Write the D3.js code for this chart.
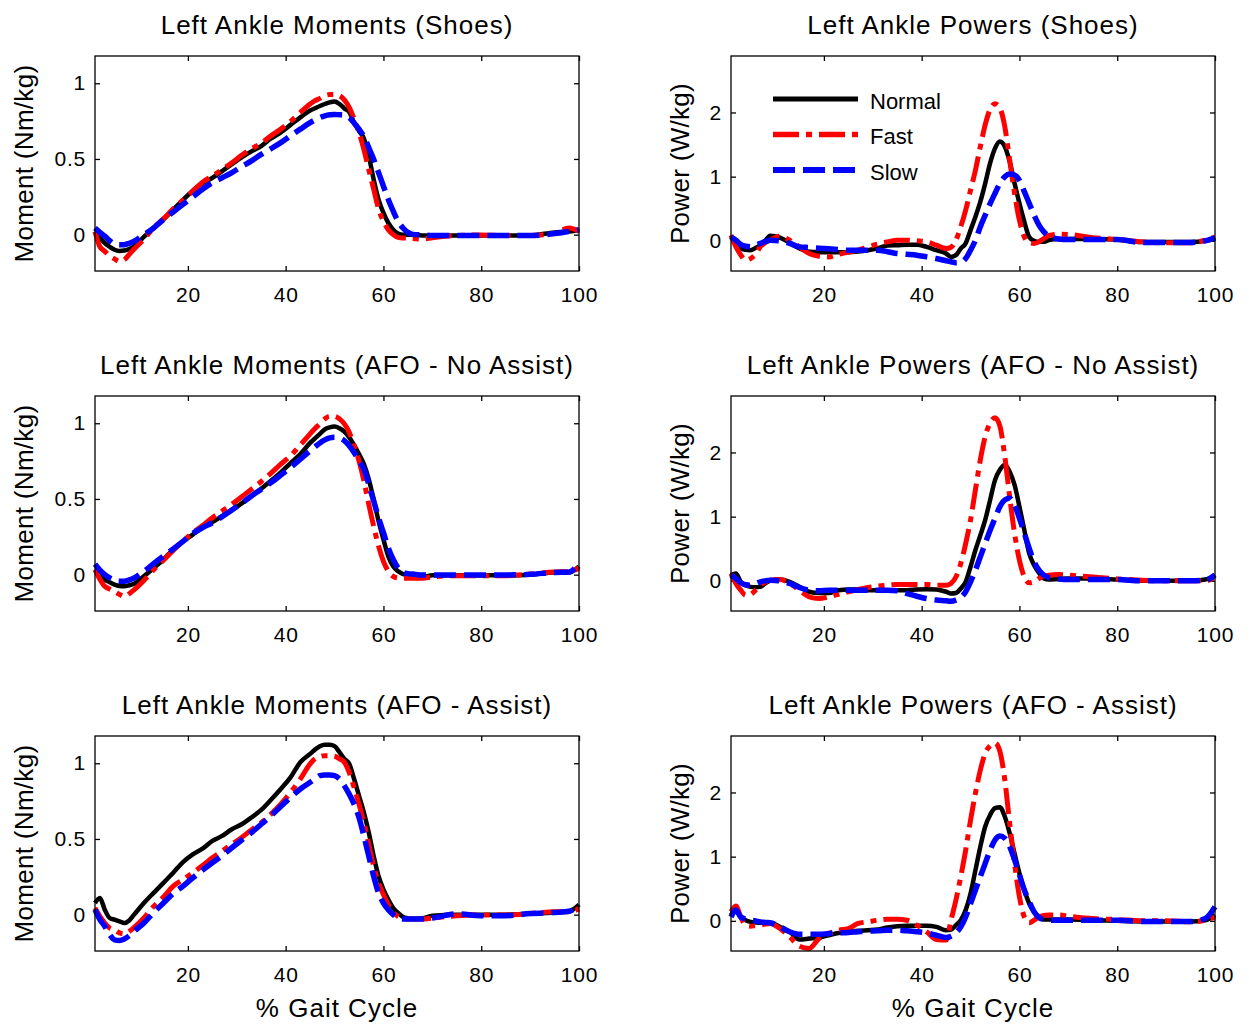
<!DOCTYPE html>
<html>
<head>
<meta charset="utf-8">
<script src="https://cdn.jsdelivr.net/npm/d3@7"></script>
<style>
  body { margin: 0; background: #fff; }
  text { font-family: "Liberation Sans", Arial, sans-serif; fill: #000; }
</style>
</head>
<body>
<div id="chart"></div>
<script>
// % gait cycle sample points (denser around push-off)
var gaitPct = [1,2,3,4,5,6,7,8,9,11,13,15,17,19,21,23,25,27,29,31,33,35,37,39,41,43,45,
  46,47,48,49,50,51,52,53,54,55,56,57,58,59,60,61,62,63,64,65,66,68,70,75,80,85,90,95,98,100];

var seriesNames = ["Normal", "Fast", "Slow"];
var titles = [
  "Left Ankle Moments (Shoes)", "Left Ankle Powers (Shoes)",
  "Left Ankle Moments (AFO - No Assist)", "Left Ankle Powers (AFO - No Assist)",
  "Left Ankle Moments (AFO - Assist)", "Left Ankle Powers (AFO - Assist)"
];
var momentTicks = [0, 0.5, 1];
var powerTicks = [0, 1, 2];
var pctTicks = [20, 40, 60, 80, 100];

// moments (Nm/kg)
var momShoesNormal = [0.02,-0.02,-0.055,-0.08,-0.10,-0.108,-0.105,-0.095,-0.077,
  -0.015,0.045,0.10,0.165,0.23,0.29,0.34,0.375,0.42,0.465,0.51,0.55,0.585,0.635,0.675,0.725,0.775,0.82,
  0.835,0.85,0.863,0.874,0.88,0.863,0.834,0.81,0.74,0.685,0.635,0.52,0.365,0.232,0.144,0.077,0.033,0.007,0,0,-0.002,
  -0.005,-0.005,-0.005,-0.005,-0.005,-0.005,0.015,0.02,0.03];
var momShoesFast = [0.02,-0.08,-0.11,-0.14,-0.16,-0.177,-0.166,-0.13,-0.095,
  -0.03,0.045,0.104,0.17,0.228,0.288,0.347,0.387,0.43,0.475,0.524,0.568,0.604,0.653,0.697,0.748,0.807,0.863,
  0.885,0.90,0.918,0.925,0.925,0.918,0.89,0.84,0.763,0.675,0.564,0.43,0.30,0.17,0.088,0.033,0,-0.018,-0.022,-0.022,-0.026,
  -0.029,-0.02,-0.006,-0.002,-0.006,-0.006,0.01,0.044,0.022];
var momShoesSlow = [0.044,0.015,-0.01,-0.04,-0.062,-0.067,-0.066,-0.057,-0.044,
  0,0.044,0.10,0.15,0.20,0.25,0.30,0.343,0.376,0.41,0.45,0.487,0.53,0.568,0.608,0.653,0.697,0.74,
  0.758,0.774,0.785,0.792,0.794,0.792,0.79,0.774,0.737,0.697,0.648,0.575,0.498,0.41,0.32,0.232,0.155,0.088,0.044,0.015,0.002,
  -0.002,-0.006,-0.006,-0.006,-0.006,-0.006,0.007,0.022,0.033];

var momNoAsstNormal = [0.033,0.0,-0.033,-0.05,-0.066,-0.075,-0.077,-0.07,-0.06,
  -0.011,0.044,0.10,0.166,0.22,0.265,0.31,0.347,0.387,0.427,0.471,0.52,0.568,0.62,0.675,0.737,0.796,0.87,
  0.90,0.93,0.96,0.973,0.978,0.967,0.945,0.907,0.856,0.796,0.73,0.63,0.498,0.354,0.232,0.12,0.055,0.022,0.004,-0.007,-0.011,
  -0.015,-0.004,-0.004,-0.004,-0.004,0,0.015,0.015,0.055];
var momNoAsstFast = [0.033,-0.03,-0.077,-0.095,-0.11,-0.13,-0.144,-0.126,-0.10,
  -0.038,0.033,0.095,0.16,0.22,0.277,0.325,0.376,0.42,0.465,0.515,0.564,0.615,0.67,0.73,0.785,0.856,0.93,
  0.965,0.996,1.029,1.046,1.046,1.029,0.996,0.94,0.852,0.752,0.62,0.465,0.32,0.188,0.088,0.022,-0.011,-0.022,-0.024,-0.024,-0.024,
  -0.024,-0.015,-0.007,-0.007,-0.007,0.004,0.018,0.02,0.044];
var momNoAsstSlow = [0.07,0.03,0,-0.022,-0.038,-0.044,-0.044,-0.035,-0.022,
  0.022,0.073,0.122,0.17,0.22,0.272,0.31,0.343,0.383,0.427,0.471,0.52,0.564,0.608,0.657,0.708,0.763,0.818,
  0.845,0.87,0.89,0.903,0.907,0.903,0.885,0.852,0.807,0.752,0.697,0.597,0.487,0.376,0.277,0.177,0.10,0.044,0.015,0.007,0.004,
  -0.002,-0.002,-0.002,-0.002,-0.002,0.002,0.015,0.018,0.077];

var momAsstNormal = [0.077,0.11,0.033,-0.022,-0.033,-0.044,-0.055,-0.038,0,
  0.077,0.144,0.21,0.277,0.347,0.398,0.436,0.487,0.52,0.564,0.597,0.642,0.692,0.759,0.83,0.907,1.007,1.062,
  1.09,1.113,1.122,1.122,1.113,1.073,1.029,0.996,0.896,0.785,0.675,0.542,0.387,0.254,0.166,0.10,0.044,0.011,-0.015,-0.024,-0.029,
  -0.024,-0.007,0,0,0,0.007,0.015,0.022,0.066];
var momAsstFast = [0.044,-0.011,-0.055,-0.088,-0.10,-0.12,-0.126,-0.11,-0.084,
  -0.022,0.055,0.117,0.188,0.232,0.277,0.325,0.376,0.42,0.465,0.51,0.56,0.608,0.664,0.73,0.807,0.896,0.996,
  1.029,1.044,1.05,1.05,1.046,1.029,1.007,0.94,0.84,0.73,0.608,0.465,0.32,0.21,0.133,0.066,0.015,-0.011,-0.024,-0.029,-0.029,
  -0.029,-0.022,-0.007,-0.002,-0.002,0.007,0.02,0.02,0.038];
var momAsstSlow = [0.033,-0.033,-0.077,-0.133,-0.166,-0.17,-0.16,-0.14,-0.11,
  -0.055,0.015,0.077,0.14,0.188,0.243,0.294,0.343,0.39,0.442,0.493,0.542,0.597,0.653,0.715,0.774,0.83,0.874,
  0.896,0.918,0.922,0.922,0.918,0.896,0.852,0.796,0.73,0.642,0.52,0.387,0.254,0.144,0.077,0.033,0,-0.022,-0.029,-0.029,-0.029,
  -0.029,-0.022,0.005,-0.007,-0.007,0.007,0.015,0.022,0.066];

// powers (W/kg)
var powShoesNormal = [0.06,-0.04,-0.12,-0.14,-0.146,-0.11,-0.07,0.0,0.08,
  0.05,-0.03,-0.12,-0.17,-0.177,-0.177,-0.177,-0.177,-0.167,-0.146,-0.115,-0.073,-0.068,-0.06,-0.06,-0.094,-0.146,-0.198,
  -0.25,-0.224,-0.12,-0.04,0.167,0.375,0.61,0.896,1.21,1.44,1.547,1.47,1.234,0.896,0.583,0.297,0.06,0,-0.016,-0.016,0.01,
  0.03,0.03,0.03,0.02,-0.02,-0.02,-0.02,0,0.036];
var powShoesFast = [0.09,-0.09,-0.22,-0.30,-0.276,-0.21,-0.09,-0.03,0.01,
  0.07,0.01,-0.094,-0.198,-0.24,-0.25,-0.208,-0.177,-0.146,-0.094,-0.052,-0.016,0.01,0.01,0,-0.016,-0.068,-0.12,
  -0.1,0.01,0.22,0.48,0.79,1.10,1.47,1.81,2.05,2.135,2.07,1.78,1.26,0.74,0.32,0.06,-0.03,-0.04,-0.016,0.036,0.083,
  0.104,0.10,0.05,0.02,-0.016,-0.03,-0.03,0.01,0.06];
var powShoesSlow = [0.06,0.01,-0.057,-0.085,-0.094,-0.07,-0.04,-0.01,0.01,
  0,-0.04,-0.094,-0.104,-0.115,-0.125,-0.135,-0.146,-0.146,-0.146,-0.146,-0.17,-0.198,-0.21,-0.224,-0.25,-0.276,-0.31,
  -0.325,-0.34,-0.333,-0.276,-0.146,0.01,0.22,0.40,0.58,0.74,0.896,1.0,1.04,1.026,0.94,0.766,0.583,0.40,0.245,0.14,0.073,
  0.03,0.02,0.02,0.02,-0.026,-0.026,-0.026,0,0.047];

var powNoAsstNormal = [0.09,0.115,-0.016,-0.07,-0.094,-0.1,-0.094,-0.04,0,
  0.02,-0.016,-0.094,-0.17,-0.19,-0.19,-0.146,-0.135,-0.135,-0.146,-0.146,-0.146,-0.146,-0.146,-0.135,-0.13,-0.135,-0.17,
  -0.198,-0.19,-0.12,-0.016,0.22,0.48,0.71,0.95,1.26,1.57,1.73,1.81,1.70,1.495,1.156,0.79,0.427,0.245,0.125,0.036,0.02,
  0.03,0.036,0.036,0.02,0,0,0,0.02,0.09];
var powNoAsstFast = [0.115,-0.04,-0.146,-0.224,-0.21,-0.146,-0.068,-0.02,0.01,
  0.02,-0.04,-0.146,-0.25,-0.276,-0.25,-0.21,-0.17,-0.135,-0.104,-0.083,-0.068,-0.057,-0.057,-0.057,-0.057,-0.068,-0.068,
  -0.04,0.06,0.27,0.58,0.95,1.42,1.885,2.25,2.46,2.54,2.41,1.94,1.31,0.74,0.32,0.06,-0.03,-0.016,0.036,0.073,0.089,
  0.10,0.089,0.06,0.03,0.01,0,0,0,0.06];
var powNoAsstSlow = [0.09,0.036,-0.03,-0.06,-0.068,-0.045,-0.016,0.0,0.01,
  0,-0.04,-0.104,-0.146,-0.156,-0.146,-0.146,-0.146,-0.146,-0.146,-0.146,-0.146,-0.156,-0.198,-0.24,-0.276,-0.30,-0.31,
  -0.318,-0.30,-0.26,-0.17,-0.016,0.167,0.375,0.583,0.79,0.974,1.156,1.26,1.286,1.18,0.974,0.74,0.505,0.297,0.167,0.089,0.05,
  0.03,0.02,0.02,0.02,0,0,0,0.01,0.09];

var powAsstNormal = [0.09,0.167,0.06,0.01,-0.016,-0.025,-0.03,-0.03,-0.03,
  -0.094,-0.17,-0.29,-0.276,-0.26,-0.224,-0.19,-0.17,-0.156,-0.146,-0.135,-0.104,-0.083,-0.078,-0.078,-0.078,-0.094,-0.146,
  -0.135,-0.068,0.01,0.167,0.427,0.79,1.156,1.47,1.65,1.755,1.77,1.625,1.365,1.05,0.74,0.48,0.27,0.14,0.06,0.02,0.02,
  0.02,0.02,0.01,0,-0.01,-0.01,-0.01,0.01,0.09];
var powAsstFast = [0.14,0.23,0.06,-0.068,-0.083,-0.075,-0.068,-0.05,-0.04,
  -0.12,-0.25,-0.396,-0.43,-0.276,-0.198,-0.146,-0.12,-0.04,-0.016,0.01,0.026,0.026,0.01,-0.068,-0.17,-0.29,-0.30,
  0.01,0.32,0.69,1.10,1.57,1.99,2.35,2.61,2.73,2.77,2.64,2.20,1.52,0.896,0.375,0.06,-0.03,0.01,0.06,0.083,0.09,
  0.09,0.073,0.036,0.02,0,0,-0.016,0.01,0.06];
var powAsstSlow = [0.06,0.167,0.06,0.03,0.01,0,-0.016,-0.025,-0.03,
  -0.094,-0.17,-0.21,-0.21,-0.21,-0.198,-0.19,-0.182,-0.17,-0.16,-0.156,-0.146,-0.146,-0.156,-0.17,-0.19,-0.224,-0.26,
  -0.24,-0.19,-0.094,0.06,0.27,0.48,0.69,0.896,1.10,1.26,1.32,1.286,1.156,0.95,0.714,0.48,0.297,0.14,0.052,0.02,0.01,
  0.01,0.01,0.01,0.01,-0.01,-0.01,-0.01,0.036,0.22];

var W = 1249, H = 1024;
var colX = [95, 731], rowY = [56, 396, 736];
var axW = 484, axH = 215;

var styles = [
  { color: "#000000", width: 4.5, dash: null },
  { color: "#ff0000", width: 5,   dash: "26,7,6,7" },
  { color: "#0000ff", width: 5.5, dash: "22,8" }
];

var panels = [
  { kind: "moment", series: [momShoesNormal, momShoesFast, momShoesSlow] },
  { kind: "power",  series: [powShoesNormal, powShoesFast, powShoesSlow], legend: true },
  { kind: "moment", series: [momNoAsstNormal, momNoAsstFast, momNoAsstSlow] },
  { kind: "power",  series: [powNoAsstNormal, powNoAsstFast, powNoAsstSlow] },
  { kind: "moment", series: [momAsstNormal, momAsstFast, momAsstSlow] },
  { kind: "power",  series: [powAsstNormal, powAsstFast, powAsstSlow] }
];

var svg = d3.select("#chart").append("svg")
  .attr("width", W)
  .attr("height", H);

panels.forEach(function(p, i) {
  var row = Math.floor(i / 2), col = i % 2;
  var g = svg.append("g")
    .attr("transform", "translate(" + colX[col] + "," + rowY[row] + ")");

  var x = d3.scaleLinear().domain([1, 100]).range([0, axW]);
  var y = p.kind === "moment"
    ? d3.scaleLinear().domain([-0.24, 1.18]).range([axH, 0])
    : d3.scaleLinear().domain([-0.47, 2.88]).range([axH, 0]);
  var yTicks = p.kind === "moment" ? momentTicks : powerTicks;

  // axes (ticks point inward, like matlab)
  g.append("g")
    .attr("transform", "translate(0," + axH + ")")
    .call(d3.axisBottom(x).tickValues(pctTicks).tickSizeInner(-5).tickSizeOuter(0).tickPadding(16))
    .call(styleAxis);
  g.append("g")
    .call(d3.axisTop(x).tickValues(pctTicks).tickSizeInner(-5).tickSizeOuter(0).tickFormat(""))
    .call(styleAxis);
  g.append("g")
    .call(d3.axisLeft(y).tickValues(yTicks).tickSizeInner(-5).tickSizeOuter(0).tickPadding(9).tickFormat(d3.format("")))
    .call(styleAxis);
  g.append("g")
    .attr("transform", "translate(" + axW + ",0)")
    .call(d3.axisRight(y).tickValues(yTicks).tickSizeInner(-5).tickSizeOuter(0).tickFormat(""))
    .call(styleAxis);

  var line = d3.line()
    .x(function(d) { return x(d[0]); })
    .y(function(d) { return y(d[1]); })
    .curve(d3.curveMonotoneX);

  p.series.forEach(function(vals, k) {
    var pts = gaitPct.map(function(t, j) { return [t, vals[j]]; });
    g.append("path")
      .datum(pts)
      .attr("d", line)
      .attr("fill", "none")
      .attr("stroke", styles[k].color)
      .attr("stroke-width", styles[k].width)
      .attr("stroke-dasharray", styles[k].dash)
      .attr("stroke-linejoin", "round");
  });

  g.append("rect")
    .attr("width", axW)
    .attr("height", axH)
    .attr("fill", "none")
    .attr("stroke", "#000")
    .attr("stroke-width", 1.3);

  g.append("text")
    .attr("x", axW / 2)
    .attr("y", -22)
    .attr("text-anchor", "middle")
    .style("font-size", "26px")
    .style("letter-spacing", "1px")
    .text(titles[i]);

  g.append("text")
    .attr("transform", "translate(" + (col === 0 ? -71 : -51) + "," + (axH / 2) + ") rotate(-90)")
    .attr("dy", "0.36em")
    .attr("text-anchor", "middle")
    .style("font-size", "26px")
    .style("letter-spacing", "0.3px")
    .text(p.kind === "moment" ? "Moment (Nm/kg)" : "Power (W/kg)");

  if (row === 2) {
    g.append("text")
      .attr("x", axW / 2)
      .attr("y", axH + 66)
      .attr("text-anchor", "middle")
      .style("font-size", "26px")
      .style("letter-spacing", "1px")
      .text("% Gait Cycle");
  }

  if (p.legend) {
    var lg = g.append("g").attr("transform", "translate(42,43)");
    seriesNames.forEach(function(name, k) {
      var ly = k * 35.5;
      lg.append("line")
        .attr("x1", 0).attr("x2", 85)
        .attr("y1", ly).attr("y2", ly)
        .attr("stroke", styles[k].color)
        .attr("stroke-width", styles[k].width + 0.5)
        .attr("stroke-dasharray", styles[k].dash);
      lg.append("text")
        .attr("x", 97)
        .attr("y", ly + 2)
        .attr("dy", "0.36em")
        .style("font-size", "22px")
        .text(name);
    });
  }
});

function styleAxis(sel) {
  sel.select(".domain").remove();
  sel.selectAll(".tick line").attr("stroke", "#000").attr("stroke-width", 1.3);
  sel.selectAll(".tick text")
    .attr("fill", "#000")
    .style("font-family", "'Liberation Sans', Arial, sans-serif")
    .style("font-size", "21px")
    .style("letter-spacing", "0.8px");
}
</script>
</body>
</html>
